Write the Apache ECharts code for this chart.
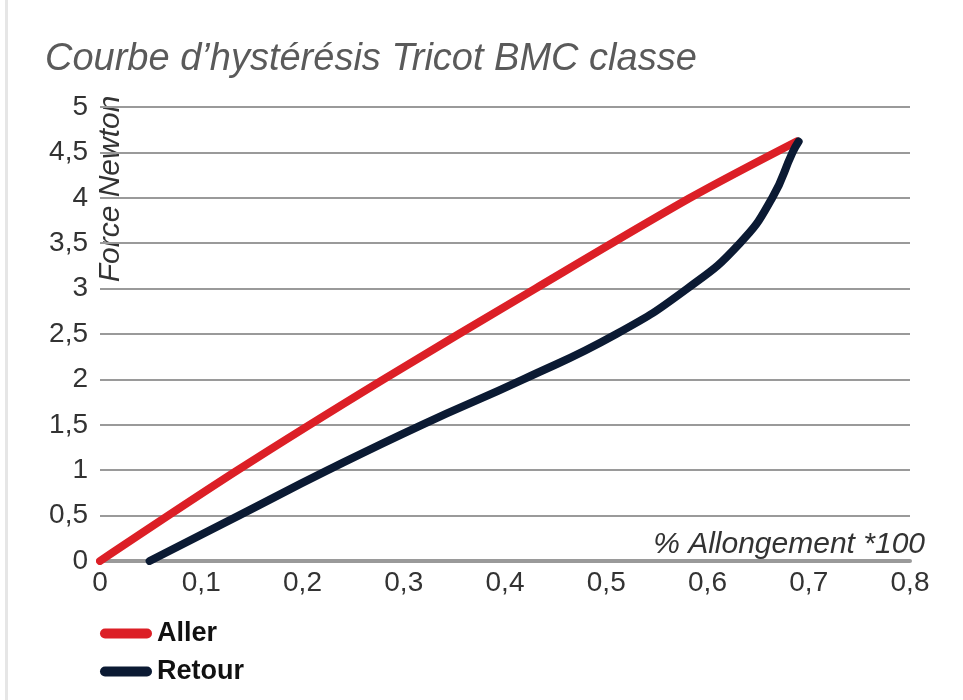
<!DOCTYPE html>
<html>
<head>
<meta charset="utf-8">
<script src="https://cdn.jsdelivr.net/npm/echarts@6/dist/echarts.min.js"></script>
<style>
  html, body { margin: 0; padding: 0; background: #fff; }
  #chart { width: 963px; height: 700px; }
</style>
</head>
<body>
<div id="chart"></div>
<script>
// values
var chartTitle = 'Courbe d\u2019hystérésis Tricot BMC classe'
var yName = 'Force Newton'
var xName = '% Allongement *100'
var seriesNames = ['Aller', 'Retour']

var allerX = [0, 0.136, 0.28, 0.43, 0.583, 0.688]
var allerY = [0, 1, 2, 3, 4, 4.62]

var retourX = [0.049, 0.137, 0.225, 0.318, 0.418, 0.51, 0.58, 0.632, 0.664, 0.684, 0.690]
var retourY = [0, 0.5, 1, 1.5, 2, 2.5, 3, 3.5, 4, 4.5, 4.62]

var colors = ['#dc1f26', '#0b1a33']

function pairs(xs, ys) {
    var out = []
    for (var i = 0; i < xs.length; i++) {
        out.push([xs[i], ys[i]])
    }
    return out
}

function comma(v) {
    return String(v).replace('.', ',')
}

var font = '"Liberation Sans", Helvetica, Arial, sans-serif'

var myChart = echarts.init(document.getElementById('chart'))

var option = {
    backgroundColor: '#fff',
    animation: false,
    title: {
        text: chartTitle,
        left: 40,
        top: 35,
        textStyle: {
            fontFamily: font,
            fontStyle: 'italic',
            fontWeight: 'normal',
            fontSize: 38,
            color: '#5a5a5a',
        },
    },
    legend: {
        data: seriesNames,
        orient: 'vertical',
        left: 95,
        top: 615,
        itemWidth: 52,
        itemHeight: 10,
        itemGap: 11,
        icon: 'path://M5,0 L47,0 A5,5 0 0 1 47,10 L5,10 A5,5 0 0 1 5,0 Z',
        textStyle: {
            fontFamily: font,
            fontWeight: 'bold',
            fontSize: 27,
            lineHeight: 26,
            color: '#111',
        },
    },
    grid: {
        left: 100,
        right: 53,
        top: 107,
        bottom: 139,
    },
    xAxis: {
        type: 'value',
        min: 0,
        max: 0.8,
        interval: 0.1,
        axisLine: { show: true, lineStyle: { color: '#9a9a9a', width: 4 } },
        axisTick: { show: false },
        splitLine: { show: false },
        axisLabel: {
            margin: 8,
            fontFamily: font,
            fontSize: 28,
            color: '#333',
            formatter: comma,
        },
    },
    yAxis: {
        type: 'value',
        min: 0,
        max: 5,
        interval: 0.5,
        axisLine: { show: false },
        axisTick: { show: false },
        splitLine: { lineStyle: { color: '#9a9a9a', width: 2 } },
        axisLabel: {
            margin: 12,
            fontFamily: font,
            fontSize: 28,
            color: '#333',
            formatter: comma,
        },
    },
    graphic: [
        {
            type: 'rect',
            left: 5,
            top: 0,
            shape: { width: 3, height: 700 },
            style: { fill: '#e6e6e6' },
        },
        {
            type: 'text',
            x: 111,
            y: 189,
            rotation: Math.PI / 2,
            style: {
                text: yName,
                fontFamily: font,
                fontStyle: 'italic',
                fontSize: 30,
                fill: '#333',
                align: 'center',
                verticalAlign: 'middle',
                backgroundColor: '#fff',
                padding: [2, 6, 2, 6],
            },
        },
        {
            type: 'text',
            x: 925,
            y: 545,
            style: {
                text: xName,
                fontFamily: font,
                fontStyle: 'italic',
                fontSize: 30,
                fill: '#333',
                align: 'right',
                verticalAlign: 'middle',
            },
        },
    ],
    series: [
        {
            name: seriesNames[0],
            type: 'line',
            data: pairs(allerX, allerY),
            showSymbol: false,
            color: colors[0],
            smooth: 0.3,
            lineStyle: { width: 8, cap: 'round', join: 'round' },
            z: 3,
        },
        {
            name: seriesNames[1],
            type: 'line',
            data: pairs(retourX, retourY),
            showSymbol: false,
            color: colors[1],
            smooth: 0.5,
            lineStyle: { width: 8, cap: 'round', join: 'round' },
            z: 4,
        },
    ],
}

myChart.setOption(option)
</script>
</body>
</html>
